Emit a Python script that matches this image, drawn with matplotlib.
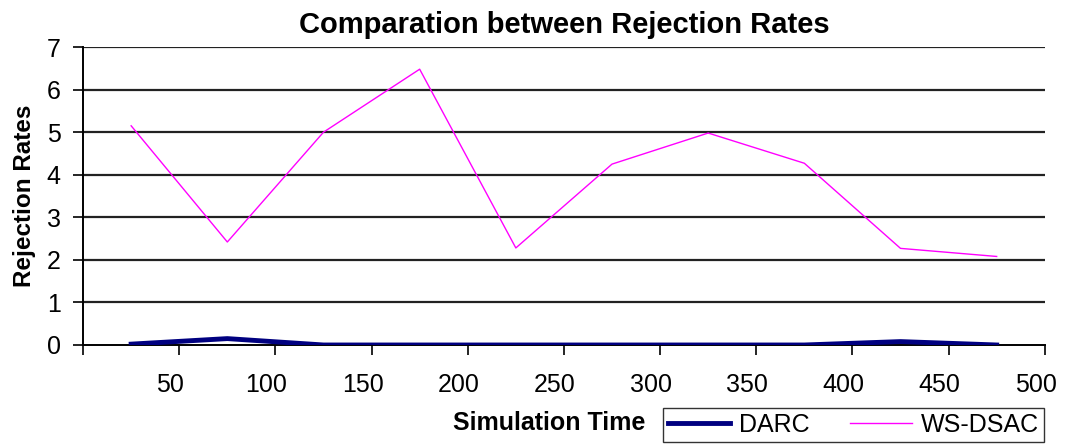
import matplotlib
matplotlib.use("Agg")
from matplotlib import pyplot as plt
from matplotlib.transforms import ScaledTranslation

# simulation time (category midpoints) and rejection rates
sim_time = [25, 75, 125, 175, 225, 275, 325, 375, 425, 475]
darc = [0.02, 0.15, 0.0, 0.0, 0.0, 0.0, 0.0, 0.0, 0.08, 0.0]
ws_dsac = [5.15, 2.42, 5.0, 6.48, 2.28, 4.25, 4.98, 4.27, 2.27, 2.08]
x_ticks = [0, 50, 100, 150, 200, 250, 300, 350, 400, 450, 500]
x_labels = ["", "50", "100", "150", "200", "250", "300", "350", "400", "450", "500"]

plt.rcParams['font.family'] = ['Liberation Sans', 'DejaVu Sans']

fig = plt.figure(figsize=(10.65, 4.44), dpi=100)
ax = fig.add_axes([0.078, 0.223, 0.903, 0.671])

for y in range(1, 8):
    ax.axhline(y, color="#222222", linewidth=1.6, zorder=1)

ax.plot(sim_time, darc, color="#000080", linewidth=3.5, label="DARC", zorder=3)
ax.plot(sim_time, ws_dsac, color="#ff00ff", linewidth=1, label="WS-DSAC", zorder=3)

ax.set_xlim(0, 500)
ax.set_ylim(0, 7)
ax.set_xticks(x_ticks)
ax.set_xticklabels(x_labels)
ax.set_yticks(range(0, 8))
ax.tick_params(axis="x", direction="out", length=7, width=1.2, pad=13, labelsize=18)
ax.tick_params(axis="y", direction="out", length=7, width=1.2, pad=9, labelsize=18)

# labels sit a little left of their ticks in the original
shift = ScaledTranslation(-9 / 100, 0, fig.dpi_scale_trans)
for lbl in ax.get_xticklabels():
    lbl.set_transform(lbl.get_transform() + shift)

ax.spines["top"].set_visible(False)
ax.spines["right"].set_visible(False)
ax.spines["left"].set_linewidth(1.4)
ax.spines["bottom"].set_linewidth(1.4)

ax.set_title("Comparation between Rejection Rates", fontsize=21, fontweight="bold", pad=10)
ax.set_ylabel("Rejection Rates", fontsize=17.5, fontweight="bold", labelpad=8)
fig.text(0.516, 0.047, "Simulation Time", fontsize=18, fontweight="bold", ha="center", va="center")

leg = fig.legend(loc="upper left", bbox_to_anchor=(0.6225, 0.081), ncol=2, frameon=True,
                 fontsize=18, fancybox=False, edgecolor="black", handlelength=2.5,
                 columnspacing=1.6, borderpad=0.2, handletextpad=0.35, borderaxespad=0)
leg.get_frame().set_linewidth(1.0)

fig.savefig("out.png", dpi=100)
